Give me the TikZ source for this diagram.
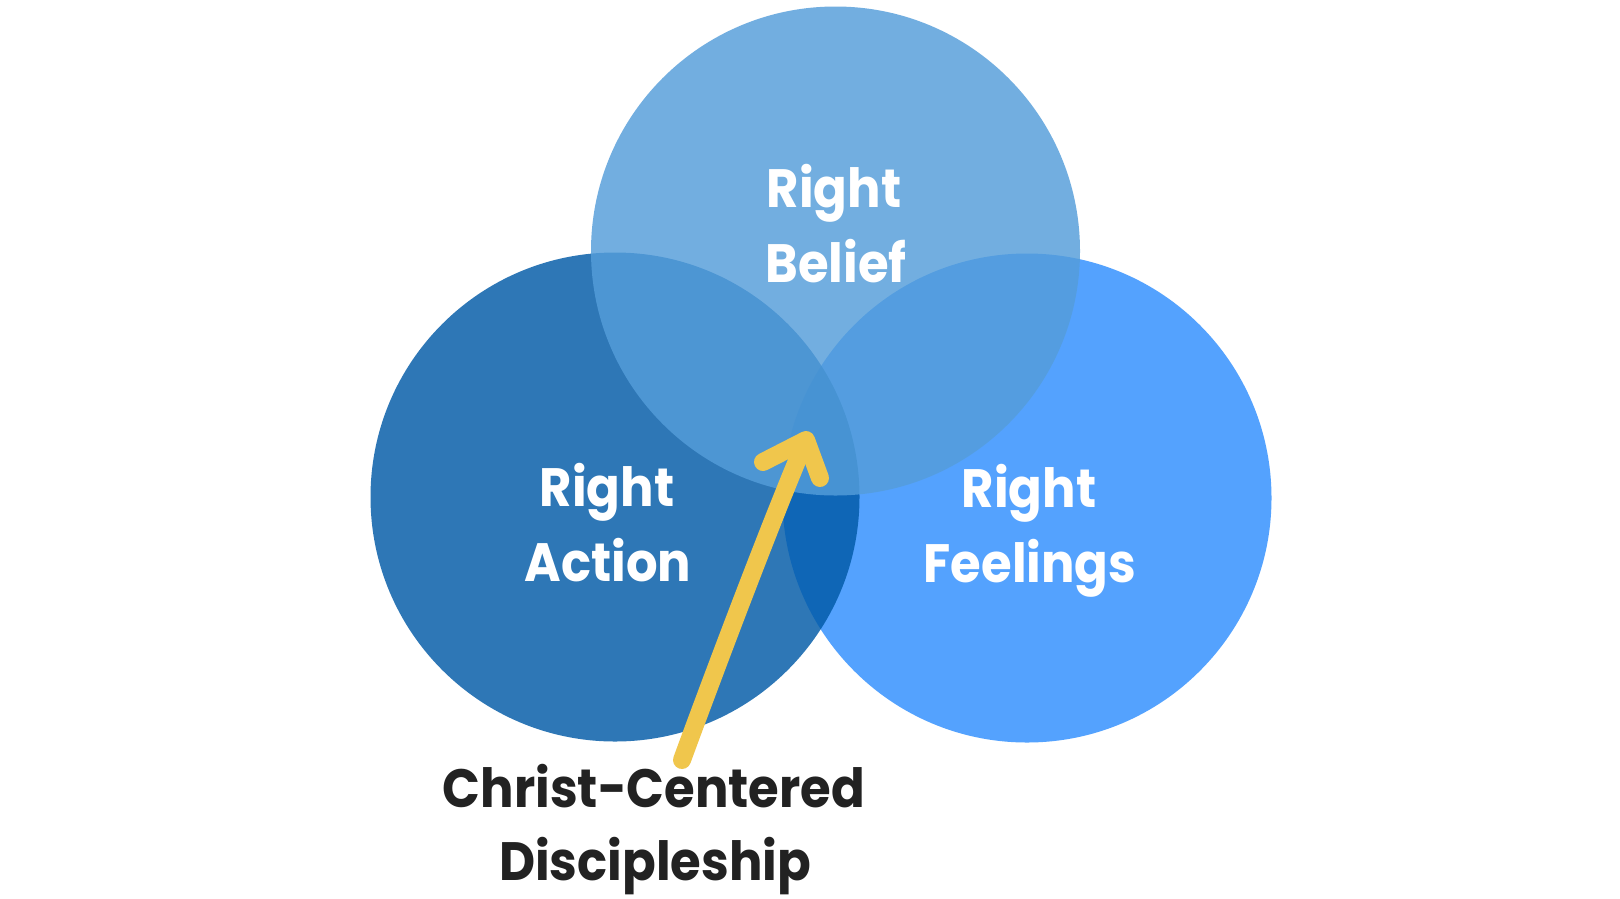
\documentclass[tikz,border=0pt]{standalone}
\usepackage{fontspec}
\setmainfont{Poppins}[FakeStretch=0.92]
\definecolor{rightc}{RGB}{84,162,254}
\definecolor{leftc}{RGB}{1,90,167}
\definecolor{topc}{RGB}{84,157,218}
\definecolor{arrowc}{RGB}{240,198,76}
\definecolor{darktext}{RGB}{34,34,34}
\tikzset{
  lbl/.style={anchor=base, text=white, font=\fontsize{54}{74}\selectfont\bfseries, inner sep=0pt},
  captext/.style={anchor=base, text=darktext, font=\fontsize{54}{74}\selectfont\bfseries, inner sep=0pt},
  arrowline/.style={draw=arrowc, line width=18pt, line cap=round, line join=round},
}
\begin{document}
\begin{tikzpicture}[x=1pt,y=-1pt]
\useasboundingbox (0,0) rectangle (1620,898);
\fill[white] (0,0) rectangle (1620,898);
% circles
\fill[rightc] (1027,498) circle (244.5);
\fill[leftc, opacity=0.82] (615,497) circle (244.5);
\fill[topc, opacity=0.82] (835.5,251) circle (244.5);
% labels
\node[lbl] (b1) at (834,207) {Right};
\node[lbl] (b2) at (836,282) {Belief};
\node[lbl] (a1) at (607,506) {Right};
\node[lbl] (a2) at (608,581) {Action};
\node[lbl] (f1) at (1029,507) {Right};
\node[lbl] (f2) at (1030,582) {Feelings};
\node[captext] (c1) at (654,807) {Christ-Centered};
\node[captext] (c2) at (655,880) {Discipleship};
% arrow
\coordinate (tail) at (682,760);
\coordinate (tip) at (806,440);
\coordinate (barbl) at (763,462);
\coordinate (barbr) at (820,478);
\draw[arrowline] (tail) .. controls (718,662) and (770,525) .. (802,449);
\draw[arrowline] (barbl) -- (tip) -- (barbr);
\end{tikzpicture}
\end{document}
